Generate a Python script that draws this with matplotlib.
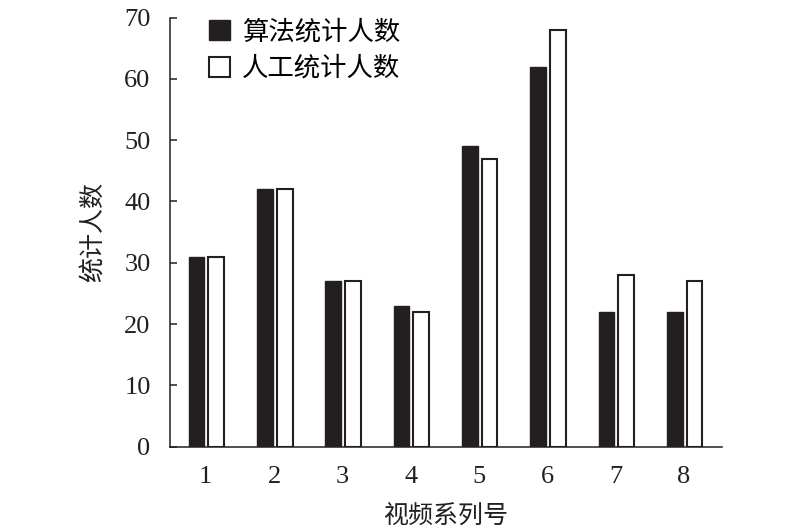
import numpy as np
import matplotlib
matplotlib.use("Agg")
import matplotlib.pyplot as plt

plt.rcParams['font.family'] = ['Liberation Serif', 'Noto Sans CJK SC']

# Daten
videos = ['1', '2', '3', '4', '5', '6', '7', '8']
algo_counts = [31, 42, 27, 23, 49, 62, 22, 22]
manual_counts = [31, 42, 27, 22, 47, 68, 28, 27]
y_ticks = [0, 10, 20, 30, 40, 50, 60, 70]

x = np.arange(1, len(videos) + 1)
breite = 0.23

fig = plt.figure(figsize=(8, 5.32), dpi=100)
ax = fig.add_axes([0.2125, 0.1603, 0.69, 0.8067])

ax.bar(x - 0.135, algo_counts, breite, color='#231f20', edgecolor='#231f20',
       linewidth=1.0, label='算法统计人数')
ax.bar(x + 0.155, manual_counts, breite, color='white', edgecolor='#231f20',
       linewidth=1.5, label='人工统计人数')

ax.set_xlim(0.477, 8.556)
ax.set_ylim(0, 70)
ax.set_xticks(x)
ax.set_xticklabels(videos)
ax.set_yticks(y_ticks)

for s in ['top', 'right']:
    ax.spines[s].set_visible(False)
for s in ['left', 'bottom']:
    ax.spines[s].set_linewidth(1.1)
    ax.spines[s].set_color('#231f20')

ax.tick_params(axis='y', direction='in', length=5, width=1.1, pad=14,
               labelsize=19, colors='#231f20')
ax.tick_params(axis='x', length=0, pad=14, labelsize=19, colors='#231f20')

ax.set_xlabel('视频系列号', fontsize=18, color='#231f20', labelpad=12)
ax.set_ylabel('统计人数', fontsize=18, color='#231f20', labelpad=14)

# Legende etwas groesser, wie im Original
ax.legend(loc='upper left', bbox_to_anchor=(0.07, 0.995), frameon=False,
          fontsize=19, handlelength=0.8, handleheight=0.8, handletextpad=0.45,
          labelspacing=0.45, borderpad=0, borderaxespad=0)

plt.savefig('out.png', dpi=100)
